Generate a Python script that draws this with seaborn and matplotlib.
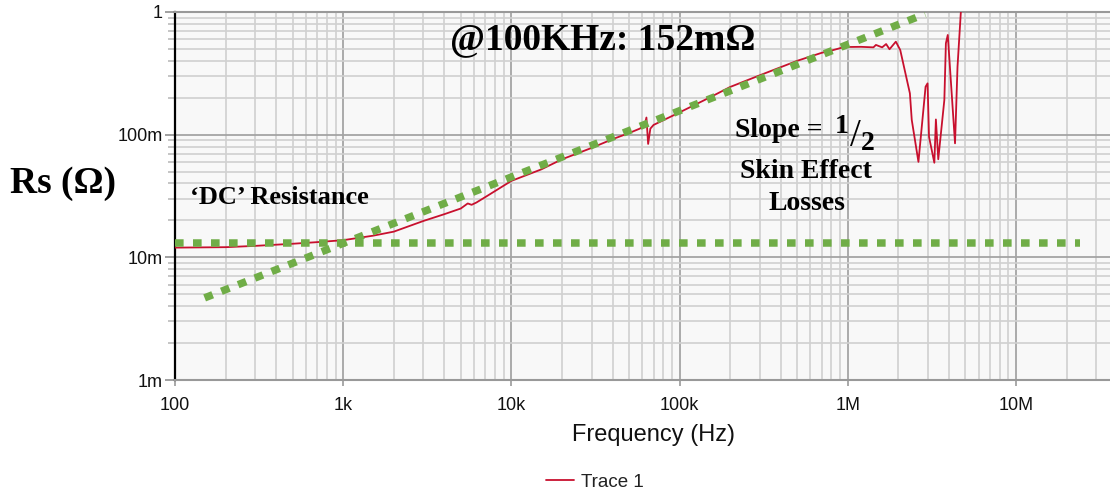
import numpy as np
import pandas as pd
import matplotlib
matplotlib.use("Agg")
import matplotlib.pyplot as plt
import seaborn as sns
from matplotlib.ticker import FixedLocator, FuncFormatter, LogLocator, NullFormatter

# ---------------- data ----------------
freq_hz = [100, 200, 300, 500, 700, 1000, 1500, 2000, 3000, 4000, 5000, 5500, 5800, 6200, 7000,
           10e3, 15e3, 20e3, 30e3, 40e3, 50e3, 58e3, 62e3, 63.5e3, 65e3, 67e3, 70e3,
           100e3, 150e3, 200e3, 300e3, 500e3, 700e3, 800e3, 950e3, 1.2e6, 1.42e6, 1.47e6,
           1.6e6, 1.69e6, 1.77e6, 1.93e6, 2.05e6, 2.34e6, 2.4e6, 2.63e6, 2.9e6, 2.98e6,
           3.04e6, 3.27e6, 3.34e6, 3.45e6, 3.75e6, 3.83e6, 3.93e6, 4.34e6, 4.49e6, 4.7e6, 5.0e6]
rs_milliohm = [12.0, 12.1, 12.4, 12.9, 13.3, 13.8, 15.0, 16.2, 19.8, 22.5, 25.0, 27.5, 26.8, 28.0, 31.0,
               42, 52, 63, 78, 92, 103, 112, 120, 138, 84, 112, 120,
               152, 200, 245, 305, 400, 465, 485, 518, 520, 515, 539,
               515, 548, 497, 573, 490, 217, 132, 60, 246, 262,
               96, 59, 133, 63, 192, 556, 650, 85, 358, 1000, 2000]

dc_line_freq = [100, 24e6]
dc_line_rs = [13.2e-3, 13.2e-3]
skin_line_freq = [150, 2.88e6]
skin_line_rs = [4.67e-3, 0.963]

x_ticks = [1e2, 1e3, 1e4, 1e5, 1e6, 1e7]
x_tick_labels = ["100", "1k", "10k", "100k", "1M", "10M"]
y_ticks = [1e-3, 1e-2, 1e-1, 1]
y_tick_labels = ["1m", "10m", "100m", "1"]

# ---------------- style ----------------
sns.set_style("white")
plt.rcParams["font.family"] = ["Liberation Sans", "DejaVu Sans"]
plt.rcParams["text.color"] = "black"

W, H = 1110, 494
fig = plt.figure(figsize=(W / 100, H / 100), dpi=100)
ax_l, ax_r, ax_t, ax_b = 175, 1110, 12, 380
ax = fig.add_axes([ax_l / W, 1 - ax_b / H, (ax_r - ax_l) / W, (ax_b - ax_t) / H])
ax.set_facecolor("#f8f8f8")

trace = pd.DataFrame({"f": freq_hz, "r": np.array(rs_milliohm) * 1e-3})
dc = pd.DataFrame({"f": dc_line_freq, "r": dc_line_rs})
skin = pd.DataFrame({"f": skin_line_freq, "r": skin_line_rs})

ax.set_xscale("log")
ax.set_yscale("log")

sns.lineplot(data=trace, x="f", y="r", ax=ax, color="#c8102e", lw=1.3,
             estimator=None, sort=False, label="Trace 1", zorder=3)
green = "#70ad47"
for d in (dc, skin):
    sns.lineplot(data=d, x="f", y="r", ax=ax, color=green, lw=5.4,
                 estimator=None, sort=False, legend=False, label="_nolegend_", zorder=4,
                 dashes=False)
for ln in ax.lines[1:]:
    ln.set_linestyle((0, (1.15, 1.25)))
    ln.set_dash_capstyle("butt")

ax.set_xlim(100, 10 ** (2 + (ax_r - ax_l) / 168.2))
ax.set_ylim(1e-3, 1)

# grid
ax.xaxis.set_major_locator(FixedLocator(x_ticks))
ax.yaxis.set_major_locator(FixedLocator(y_ticks))
ax.xaxis.set_major_formatter(FuncFormatter(lambda v, p: dict(zip(x_ticks, x_tick_labels)).get(v, "")))
ax.yaxis.set_major_formatter(FuncFormatter(lambda v, p: dict(zip(y_ticks, y_tick_labels)).get(v, "")))
ax.xaxis.set_minor_locator(LogLocator(base=10, subs=np.arange(2, 10), numticks=20))
ax.yaxis.set_minor_locator(LogLocator(base=10, subs=np.arange(2, 10), numticks=20))
ax.xaxis.set_minor_formatter(NullFormatter())
ax.yaxis.set_minor_formatter(NullFormatter())
ax.grid(True, which="major", color="#a4a4a4", lw=1.3, zorder=0)
ax.grid(True, which="minor", color="#d0d0d0", lw=1.2, zorder=0)
ax.set_axisbelow(True)

ax.tick_params(axis="y", which="major", length=7, width=1.3, color="#999999",
               labelsize=13, labelcolor="#111111", pad=2, left=True)
ax.tick_params(axis="y", which="minor", length=5, width=1.2, color="#bbbbbb", left=True)
ax.tick_params(axis="x", which="major", length=4, width=1.2, color="#999999",
               labelsize=13, labelcolor="#111111", pad=8, bottom=True)
ax.tick_params(axis="x", which="minor", length=0)

for s in ("top", "bottom"):
    ax.spines[s].set_color("#999999")
    ax.spines[s].set_linewidth(1.5)
ax.spines["left"].set_color("black")
ax.spines["left"].set_linewidth(1.6)
ax.spines["right"].set_visible(False)

ax.set_xlabel("")
ax.set_ylabel("")

# labels
fig.text(653 / W, 1 - 441 / H, "Frequency (Hz)", ha="center", va="baseline",
         fontsize=17, color="#111111")
serif = ["Liberation Serif", "DejaVu Serif"]
bold = dict(fontweight="bold", family=serif, color="black")
fig.text(10 / W, 1 - 193 / H, "Rs (Ω)", ha="left", va="baseline", fontsize=27, **bold)
fig.text(603 / W, 1 - 49 / H, "@100KHz: 152mΩ", ha="center", va="baseline", fontsize=27, **bold)
fig.text(190 / W, 1 - 204 / H, "‘DC’ Resistance", ha="left", va="baseline", fontsize=19, **bold)
fig.text(735 / W, 1 - 137 / H, "Slope = ", ha="left", va="baseline", fontsize=20, **bold)
fig.text(835 / W, 1 - 133 / H, "1", ha="left", va="baseline", fontsize=20, **bold)
fig.text(855 / W, 1 - 146 / H, "/", ha="center", va="baseline", fontsize=28,
         family=serif, color="black")
fig.text(861 / W, 1 - 150 / H, "2", ha="left", va="baseline", fontsize=20, **bold)
fig.text(806 / W, 1 - 178 / H, "Skin Effect", ha="center", va="baseline", fontsize=20, **bold)
fig.text(807 / W, 1 - 210 / H, "Losses", ha="center", va="baseline", fontsize=20, **bold)

leg = ax.legend(loc="center", bbox_to_anchor=(595 / W, 1 - 482 / H), bbox_transform=fig.transFigure,
                frameon=False, fontsize=13.5, handlelength=1.5, handletextpad=0.4)
for t in leg.get_texts():
    t.set_color("#222222")

fig.savefig("out.png", dpi=100)
